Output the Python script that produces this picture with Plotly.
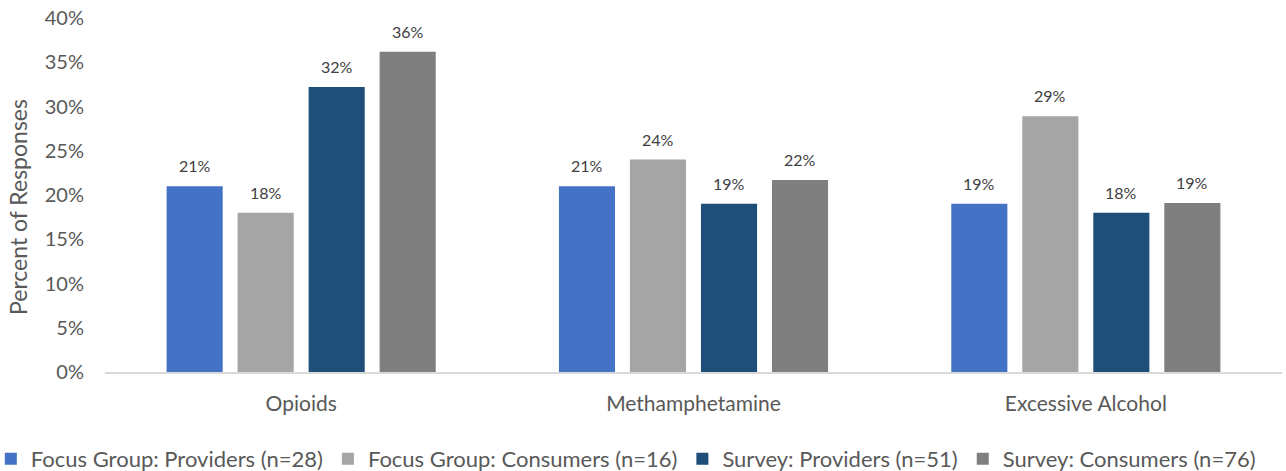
import plotly.graph_objects as go

categories = ["Opioids", "Methamphetamine", "Excessive Alcohol"]
series_names = [
    "Focus Group: Providers (n=28)",
    "Focus Group: Consumers (n=16)",
    "Survey: Providers (n=51)",
    "Survey: Consumers (n=76)",
]
fg_providers = [21.0, 21.0, 19.0]
fg_consumers = [18.0, 24.0, 28.9]
sv_providers = [32.2, 19.0, 18.0]
sv_consumers = [36.2, 21.7, 19.1]
y_ticks = [0, 5, 10, 15, 20, 25, 30, 35, 40]

colors = ["#4472C4", "#A5A5A5", "#1F4E79", "#7F7F7F"]
values = [fg_providers, fg_consumers, sv_providers, sv_consumers]

FONT = "Lato, 'Open Sans', sans-serif"
TEXT = "#595959"

# bar geometry in category units
BAR_W = 0.143
STEP = 0.181
FIRST = -0.343

fig = go.Figure()
annotations = []
for k, (name, vals, col) in enumerate(zip(series_names, values, colors)):
    off = FIRST + k * STEP
    fig.add_trace(go.Bar(
        x=categories, y=vals, name=name,
        marker=dict(color=col, line=dict(width=0)),
        width=BAR_W, offset=off,
    ))
    for i, v in enumerate(vals):
        annotations.append(dict(
            x=i + off + BAR_W / 2, y=v, xref="x", yref="y",
            text=f"{v:.0f}%", showarrow=False, yanchor="bottom", yshift=9,
            font=dict(size=16, color="#404040", family=FONT),
        ))

# y-axis title, placed by hand close to the left edge
annotations.append(dict(
    text="Percent of Responses", xref="paper", yref="paper",
    x=-0.074, y=0.466, xanchor="center", yanchor="middle",
    textangle=-90, showarrow=False,
    font=dict(size=23, color=TEXT, family=FONT),
))

fig.update_layout(
    width=1286, height=471,
    margin=dict(l=105, r=4, t=18, b=99, autoexpand=False),
    paper_bgcolor="white", plot_bgcolor="white",
    barmode="group",
    font=dict(family=FONT, color=TEXT, size=21),
    showlegend=True,
    annotations=annotations,
    legend=dict(orientation="h", x=-0.097, xanchor="left",
                y=-0.186, yanchor="top",
                font=dict(size=22, color=TEXT), itemwidth=30, traceorder="normal"),
    xaxis=dict(showline=True, linecolor="#D9D9D9", linewidth=2, ticks="",
               ticklabelstandoff=12,
               tickfont=dict(size=21, color=TEXT), showgrid=False),
    yaxis=dict(range=[0, 40], tickvals=y_ticks,
               ticktext=[f"{v}%" for v in y_ticks],
               showgrid=False, zeroline=False, showline=False,
               ticklabelstandoff=20,
               tickfont=dict(size=20, color=TEXT)),
)

fig.write_html("out.html")
